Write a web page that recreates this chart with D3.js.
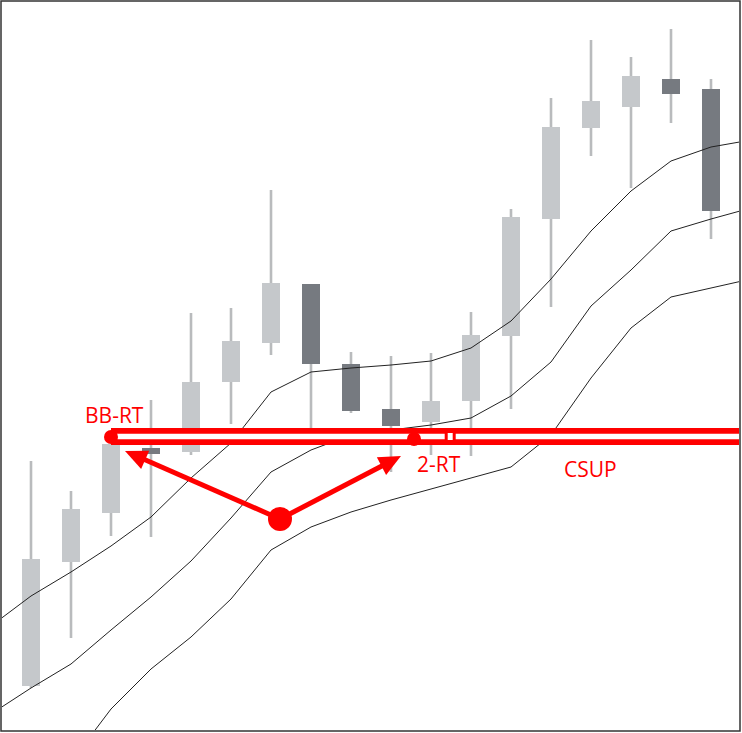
<!DOCTYPE html>
<html>
<head>
<meta charset="utf-8">
<script src="https://cdn.jsdelivr.net/npm/d3@7/dist/d3.min.js"></script>
<style>
  html, body { margin: 0; padding: 0; background: #fff; }
  svg { display: block; }
</style>
</head>
<body>
<script>
// ---- data ----
const opens  = [47, 171, 220, 285, 281, 351, 390, 449, 369, 324, 311, 332, 397, 514, 605, 626, 654, 644];
const highs  = [272, 242, 289, 333, 420, 425, 543, 449, 381, 377, 380, 421, 524, 635, 693, 676, 704, 654];
const lows   = [45, 95, 197, 196, 278, 309, 378, 303, 320, 261, 278, 277, 324, 426, 577, 545, 610, 494];
const closes = [174, 224, 289, 279, 351, 392, 450, 369, 322, 307, 332, 398, 516, 606, 632, 657, 639, 522];

// band values at candle positions -1 .. 18
const bandIndex = d3.range(-1, 19);
const upperBand  = [107, 137, 161, 187, 216, 255, 290, 341, 361, 365, 368, 372, 385, 412, 454, 502, 542, 572, 586, 593];
const middleBand = [19, 45, 69, 103, 136, 172, 215, 261, 283, 298, 303, 308, 315, 337, 371, 427, 463, 502, 514, 525];
const lowerBand  = [-107, -67, -29, 24, 64, 96, 134, 183, 206, 221, 233, 244, 255, 266, 298, 355, 405, 436, 445, 454];

// annotations
const supportLevel = 296.5;
const supportStart = 2;           // BB-RT candle index
const bbrtPoint = {i: 2, p: 296};
const rt2Point  = {i: 9.575, p: 294};
const origin    = {i: 6.225, p: 214};
const arrowTips = [{i: 2.35, p: 282}, {i: 9.25, p: 277}];
const gapBox    = {i0: 10.38, i1: 10.58};
const labels = [
  {text: "BB-RT", i: 1.35, p: 310},
  {text: "2-RT",  i: 9.65, p: 261},
  {text: "CSUP",  i: 13.325, p: 256}
];

// ---- layout ----
const W = 742, H = 733;
const svg = d3.select("body").append("svg").attr("width", W).attr("height", H);

const x = d3.scaleLinear().domain([0, 17]).range([31, 711]);
const y = d3.scaleLinear().domain([0, 733]).range([733, 0]);

const RED = "#ff0000";
const LIGHT = "#c5c8cb", DARK = "#767a80", WICK = "#b9bbbd";

svg.append("defs").append("clipPath").attr("id", "clip")
  .append("rect").attr("x", 2).attr("y", 2).attr("width", 737).attr("height", 728);

const g = svg.append("g").attr("clip-path", "url(#clip)");

// candles
const candles = d3.range(opens.length).map(i => ({i, o: opens[i], h: highs[i], l: lows[i], c: closes[i]}));
g.selectAll("line.wick").data(candles).join("line")
  .attr("x1", d => x(d.i)).attr("x2", d => x(d.i))
  .attr("y1", d => y(d.h)).attr("y2", d => y(d.l))
  .attr("stroke", WICK).attr("stroke-width", 2.6);
g.selectAll("rect.body").data(candles).join("rect")
  .attr("x", d => x(d.i) - 9).attr("width", 18)
  .attr("y", d => y(Math.max(d.o, d.c)))
  .attr("height", d => Math.max(1, Math.abs(y(d.o) - y(d.c))))
  .attr("fill", d => d.c >= d.o ? LIGHT : DARK);

// bands
const line = d3.line().x(d => x(d[0])).y(d => y(d[1]));
[upperBand, middleBand, lowerBand].forEach(b => {
  g.append("path").datum(bandIndex.map((k, j) => [k, b[j]]))
    .attr("d", line).attr("fill", "none").attr("stroke", "#222").attr("stroke-width", 1);
});

// support double line
const sx0 = x(supportStart), sx1 = 760;
g.append("line").attr("x1", sx0).attr("x2", sx1).attr("y1", y(supportLevel)).attr("y2", y(supportLevel))
  .attr("stroke", RED).attr("stroke-width", 17);
g.append("line").attr("x1", sx0 + 6).attr("x2", sx1).attr("y1", y(supportLevel)).attr("y2", y(supportLevel))
  .attr("stroke", "#fff").attr("stroke-width", 5.5);
g.append("rect")
  .attr("x", x(gapBox.i0)).attr("width", x(gapBox.i1) - x(gapBox.i0))
  .attr("y", y(supportLevel) - 5).attr("height", 10)
  .attr("fill", "#fff").attr("stroke", RED).attr("stroke-width", 3);

// dots
g.append("circle").attr("cx", x(bbrtPoint.i)).attr("cy", y(bbrtPoint.p)).attr("r", 7).attr("fill", RED);
g.append("circle").attr("cx", x(rt2Point.i)).attr("cy", y(rt2Point.p)).attr("r", 7).attr("fill", RED);
g.append("circle").attr("cx", x(origin.i)).attr("cy", y(origin.p)).attr("r", 12).attr("fill", RED);

// arrows
arrowTips.forEach(t => {
  const x0 = x(origin.i), y0 = y(origin.p), x1 = x(t.i), y1 = y(t.p);
  const ang = Math.atan2(y1 - y0, x1 - x0);
  const len = 22, hw = 10;
  const bx = x1 - len * Math.cos(ang), by = y1 - len * Math.sin(ang);
  g.append("line").attr("x1", x0).attr("y1", y0).attr("x2", bx + 2 * Math.cos(ang)).attr("y2", by + 2 * Math.sin(ang))
    .attr("stroke", RED).attr("stroke-width", 5);
  const px = -Math.sin(ang), py = Math.cos(ang);
  g.append("path")
    .attr("d", `M${x1},${y1}L${bx + hw * px},${by + hw * py}L${bx - hw * px},${by - hw * py}Z`)
    .attr("fill", RED);
});

// labels
g.selectAll("text.lbl").data(labels).join("text")
  .attr("x", d => x(d.i)).attr("y", d => y(d.p))
  .attr("fill", RED).attr("font-family", "'Open Sans', sans-serif").attr("font-size", 21)
  .text(d => d.text);

// frame
svg.append("rect").attr("x", 1).attr("y", 1).attr("width", 739).attr("height", 730)
  .attr("fill", "none").attr("stroke", "#333").attr("stroke-width", 1.5);
</script>
</body>
</html>
